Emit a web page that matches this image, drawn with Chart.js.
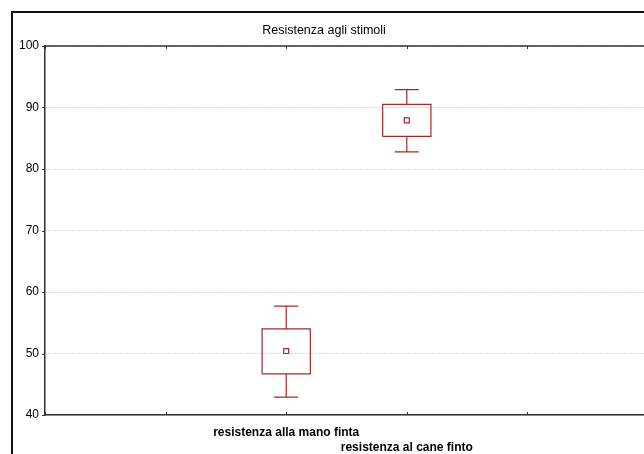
<!DOCTYPE html>
<html>
<head>
<meta charset="utf-8">
<script src="https://cdn.jsdelivr.net/npm/chart.js@4.4.1/dist/chart.umd.min.js"></script>
<style>
  html, body { margin: 0; padding: 0; background: #fff; overflow: hidden; }
  #wrap { width: 672px; height: 454px; }
</style>
</head>
<body>
<div id="wrap"><canvas id="chart" width="672" height="454"></canvas></div>
<script>
"use strict";

// Dati (media, box, baffi)
const categories = ['resistenza alla mano finta', 'resistenza al cane finto'];
const positions = [2, 3];
const means = [50.4, 87.9];
const boxLow = [46.7, 85.3];
const boxHigh = [54.0, 90.5];
const whiskerLow = [42.9, 82.8];
const whiskerHigh = [57.7, 92.9];
const yTicks = [40, 50, 60, 70, 80, 90, 100];

const red = '#a32a2a';
const boxHalf = 0.2;   // mezza larghezza del box (unità asse x)
const capHalf = 0.1;   // mezza larghezza dei baffi

Chart.defaults.font.family = "'Liberation Sans', Arial, sans-serif";
Chart.defaults.color = '#000';

// costruisce il percorso del box plot, con null per spezzare le linee
function boxPath(i) {
    const x = positions[i];
    const gap = { x: x, y: null };
    return [
        { x: x - capHalf, y: whiskerHigh[i] }, { x: x + capHalf, y: whiskerHigh[i] }, gap,
        { x: x, y: whiskerHigh[i] }, { x: x, y: boxHigh[i] }, gap,
        { x: x - boxHalf, y: boxLow[i] }, { x: x - boxHalf, y: boxHigh[i] },
        { x: x + boxHalf, y: boxHigh[i] }, { x: x + boxHalf, y: boxLow[i] },
        { x: x - boxHalf, y: boxLow[i] }, gap,
        { x: x, y: boxLow[i] }, { x: x, y: whiskerLow[i] }, gap,
        { x: x - capHalf, y: whiskerLow[i] }, { x: x + capHalf, y: whiskerLow[i] }
    ];
}

const boxDatasets = positions.map((p, i) => ({
    data: boxPath(i),
    showLine: true,
    spanGaps: false,
    borderColor: red,
    borderWidth: 1.2,
    pointRadius: 0,
    tension: 0
}));

const meanDataset = {
    data: positions.map((p, i) => ({ x: p, y: means[i] })),
    pointStyle: 'rect',
    pointRadius: 3.5,
    pointBorderWidth: 1.2,
    pointBorderColor: red,
    pointBackgroundColor: '#fff',
    showLine: false
};

// cornice esterna, bordo superiore e tacche degli assi
const framePlugin = {
    id: 'frame',
    beforeDraw(chart) {
        const c = chart.ctx;
        c.save();
        c.fillStyle = '#fff';
        c.fillRect(0, 0, chart.width, chart.height);
        c.strokeStyle = '#111';
        c.lineWidth = 2;
        c.beginPath();
        c.moveTo(12, chart.height + 5);
        c.lineTo(12, 12);
        c.lineTo(660, 12);
        c.lineTo(660, chart.height + 5);
        c.stroke();
        c.restore();
    },
    afterDraw(chart) {
        const c = chart.ctx;
        const a = chart.chartArea;
        const xs = chart.scales.x;
        const ys = chart.scales.y;
        c.save();
        c.strokeStyle = '#333';
        c.lineWidth = 1.5;
        c.beginPath();
        c.moveTo(a.left, a.top);
        c.lineTo(a.right, a.top);
        c.stroke();
        c.lineWidth = 1;
        c.beginPath();
        xs.ticks.forEach(t => {
            const px = Math.round(xs.getPixelForValue(t.value)) + 0.5;
            c.moveTo(px, a.bottom);
            c.lineTo(px, a.bottom - 3);
            c.moveTo(px, a.top);
            c.lineTo(px, a.top + 3);
        });
        ys.ticks.forEach(t => {
            const py = Math.round(ys.getPixelForValue(t.value)) + 0.5;
            c.moveTo(a.left, py);
            c.lineTo(a.left - 3, py);
        });
        c.stroke();
        c.restore();
    }
};

new Chart(document.getElementById('chart'), {
    type: 'scatter',
    data: { datasets: [...boxDatasets, meanDataset] },
    options: {
        responsive: false,
        animation: false,
        devicePixelRatio: 1,
        layout: { padding: { top: 0, right: 24, bottom: 0, left: 0 } },
        plugins: {
            legend: { display: false },
            tooltip: { enabled: false },
            title: {
                display: true,
                text: 'Resistenza agli stimoli',
                color: '#000',
                font: { size: 12.5, weight: 'normal' },
                padding: { top: 23, bottom: 8 }
            }
        },
        scales: {
            x: {
                type: 'linear',
                min: 0,
                max: 5,
                afterFit(scale) { scale.height = 39; },
                grid: { display: false, drawTicks: false },
                border: { display: true, color: '#333', width: 1.5 },
                ticks: {
                    stepSize: 1,
                    autoSkip: false,
                    maxRotation: 0,
                    padding: 10,
                    color: '#000',
                    font: { size: 12, weight: 'bold', lineHeight: 1.25 },
                    callback(value) {
                        const i = positions.indexOf(value);
                        if (i < 0) return '';
                        return i % 2 === 0 ? categories[i] : ['', categories[i]];
                    }
                }
            },
            y: {
                min: yTicks[0],
                max: yTicks[yTicks.length - 1],
                afterFit(scale) { scale.width = 45; },
                afterBuildTicks(scale) { scale.ticks = yTicks.map(v => ({ value: v })); },
                grid: {
                    drawTicks: false,
                    color: '#b8b8b8',
                    lineWidth: 1
                },
                border: { display: true, color: '#333', width: 1.5, dash: [1, 2] },
                ticks: {
                    padding: 6,
                    color: '#000',
                    font: { size: 12 }
                }
            }
        }
    },
    plugins: [framePlugin]
});
</script>
</body>
</html>
